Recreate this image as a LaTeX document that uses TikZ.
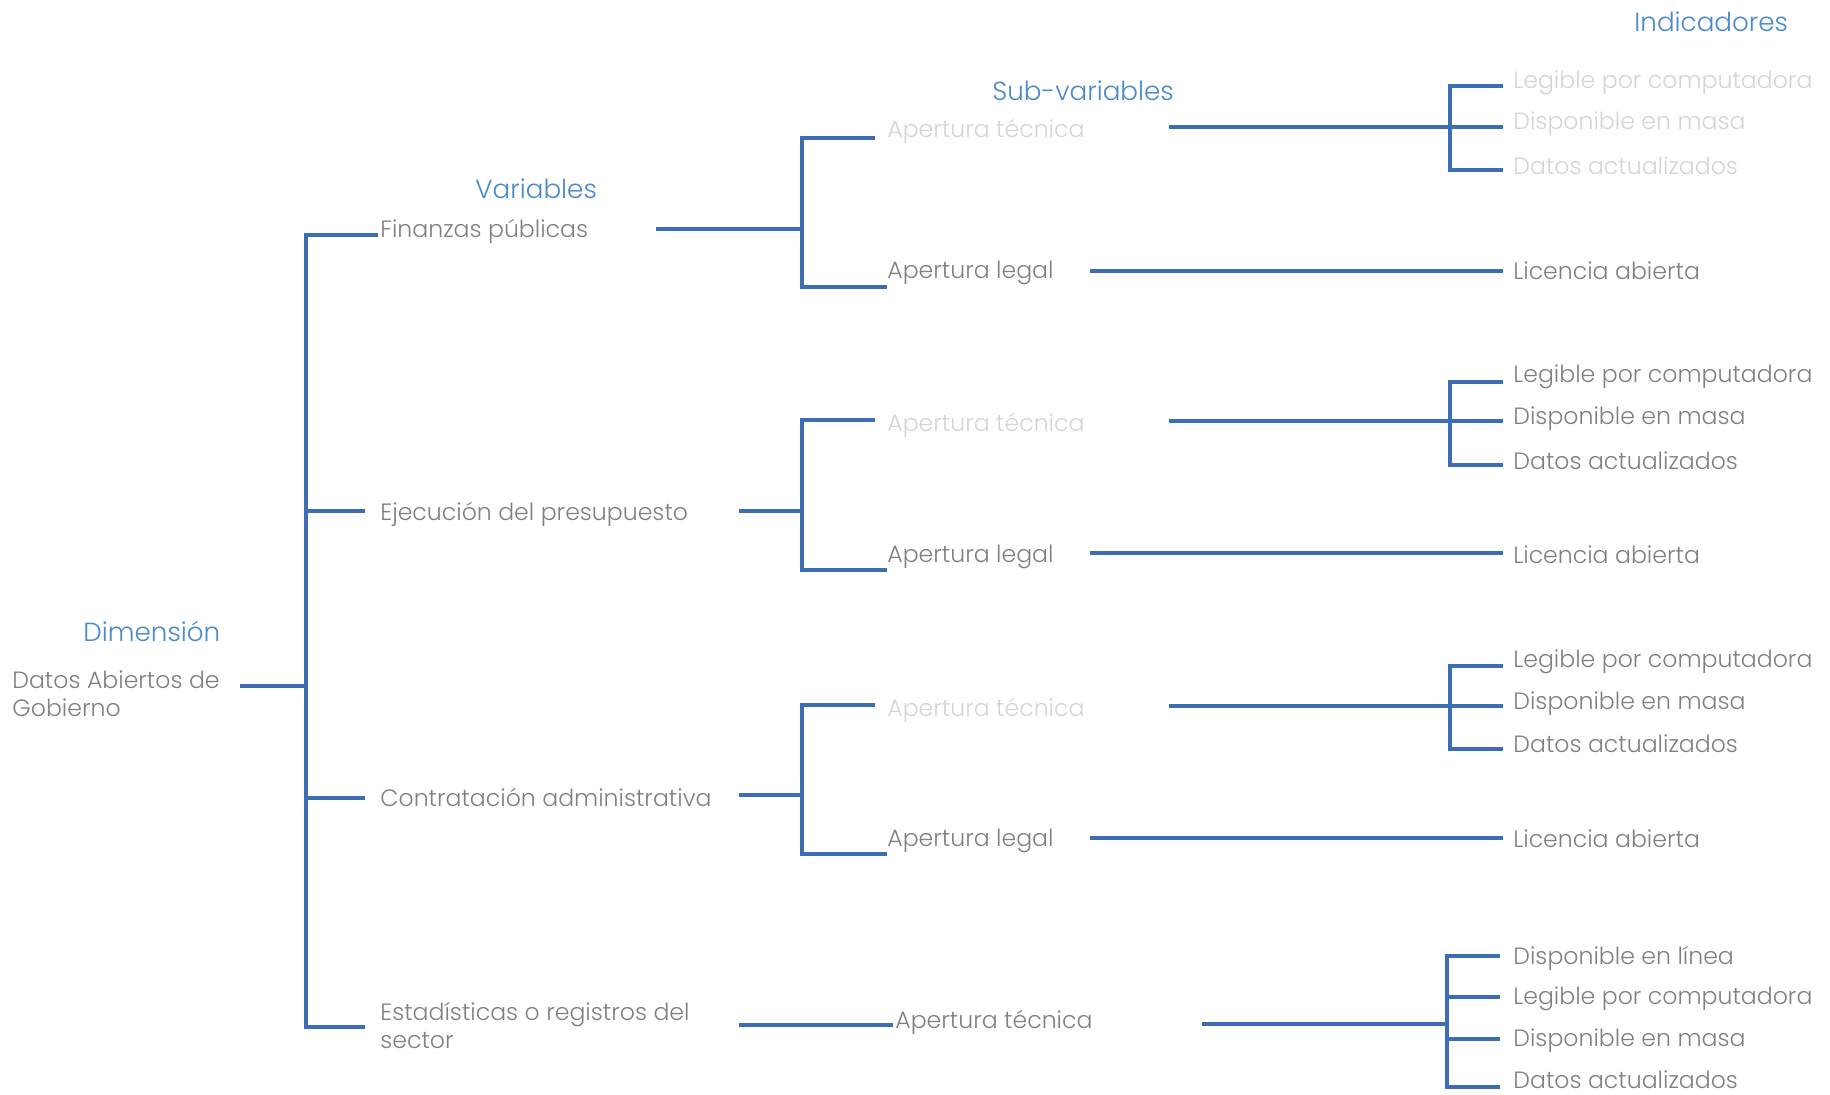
\documentclass[tikz,border=0pt]{standalone}
\usepackage{fontspec}
\setmainfont{Poppins}[UprightFont={* Light}]
\definecolor{lineblue}{HTML}{3D6DB5}
\definecolor{headblue}{HTML}{4A89CC}
\definecolor{textgray}{HTML}{808080}
\definecolor{textfaint}{HTML}{D4D4D4}
\tikzset{
  basetext/.style={anchor=west, inner sep=0pt, font=\fontsize{11.8}{14}\selectfont},
  header/.style={basetext, text=headblue, font=\fontsize{13.1}{16}\selectfont},
  label/.style={basetext, text=textgray, align=left},
  faint/.style={basetext, text=textfaint},
  conn/.style={draw=lineblue, line width=1.6pt}
}
\begin{document}
\begin{tikzpicture}[x=0.5pt, y=-0.5pt]
\useasboundingbox (0,0) rectangle (1830,1095);

% column headers
\node[header] (hInd) at (1634,22) {Indicadores};
\node[header] (hSub) at (992,91) {Sub-variables};
\node[header] (hVar) at (475,189) {Variables};
\node[header] (hDim) at (83,631) {Dimensión};

% dimension
\node[label] (dim) at (12,694) {Datos Abiertos de\\Gobierno};

% variables
\node[label] (v1) at (380,231) {Finanzas públicas};
\node[label] (v2) at (380,514) {Ejecución del presupuesto};
\node[label] (v3) at (380,797) {Contratación administrativa};
\node[label] (v4) at (380,1026) {Estadísticas o registros del\\sector};

% sub-variables
\node[faint] (s1t) at (887,131) {Apertura técnica};
\node[label] (s1l) at (887,273) {Apertura legal};
\node[faint] (s2t) at (887,425) {Apertura técnica};
\node[label] (s2l) at (887,557) {Apertura legal};
\node[faint] (s3t) at (887,710) {Apertura técnica};
\node[label] (s3l) at (887,841) {Apertura legal};
\node[label] (s4t) at (895,1022) {Apertura técnica};

% indicators
\node[faint] (i1a) at (1513,83) {Legible por computadora};
\node[faint] (i1b) at (1513,124) {Disponible en masa};
\node[faint] (i1c) at (1513,166) {Datos actualizados};
\node[label] (i1l) at (1513,271) {Licencia abierta};
\node[label] (i2a) at (1513,377) {Legible por computadora};
\node[label] (i2b) at (1513,419) {Disponible en masa};
\node[label] (i2c) at (1513,461) {Datos actualizados};
\node[label] (i2l) at (1513,555) {Licencia abierta};
\node[label] (i3a) at (1513,662) {Legible por computadora};
\node[label] (i3b) at (1513,704) {Disponible en masa};
\node[label] (i3c) at (1513,744) {Datos actualizados};
\node[label] (i3l) at (1513,839) {Licencia abierta};
\node[label] (i4a) at (1513,958) {Disponible en línea};
\node[label] (i4b) at (1513,999) {Legible por computadora};
\node[label] (i4c) at (1513,1041) {Disponible en masa};
\node[label] (i4d) at (1513,1080) {Datos actualizados};

% ---- dimension -> variables
\coordinate (dimOut) at (240,686);
\coordinate (trunk) at (306,686);
\coordinate (v1in) at (378,235);
\coordinate (v2in) at (365,511);
\coordinate (v3in) at (365,798);
\coordinate (v4in) at (365,1027);
\draw[conn] (dimOut) -- (trunk);
\draw[conn] (v1in) -| (trunk) |- (v4in);
\draw[conn] (trunk |- v2in) -- (v2in);
\draw[conn] (trunk |- v3in) -- (v3in);

% ---- variables -> sub-variables
\coordinate (v1out) at (656,229);
\coordinate (v2out) at (739,511);
\coordinate (v3out) at (739,795);
\coordinate (v4out) at (739,1025);
\coordinate (j1) at (802,229);
\coordinate (j2) at (802,511);
\coordinate (j3) at (802,795);
\coordinate (s1tin) at (875,138);
\coordinate (s1lin) at (887,287);
\coordinate (s2tin) at (875,420);
\coordinate (s2lin) at (887,570);
\coordinate (s3tin) at (875,705);
\coordinate (s3lin) at (887,854);
\coordinate (s4tin) at (893,1025);
\draw[conn] (v1out) -- (j1);
\draw[conn] (s1tin) -| (j1) |- (s1lin);
\draw[conn] (v2out) -- (j2);
\draw[conn] (s2tin) -| (j2) |- (s2lin);
\draw[conn] (v3out) -- (j3);
\draw[conn] (s3tin) -| (j3) |- (s3lin);
\draw[conn] (v4out) -- (s4tin);

% ---- sub-variables -> indicators
\coordinate (s1tout) at (1169,127);
\coordinate (k1) at (1450,127);
\coordinate (i1ain) at (1503,86);
\coordinate (i1bin) at (1503,127);
\coordinate (i1cin) at (1503,170);
\draw[conn] (s1tout) -- (i1bin);
\draw[conn] (i1ain) -| (k1) |- (i1cin);
\coordinate (s1lout) at (1090,271);
\coordinate (i1lin) at (1503,271);
\draw[conn] (s1lout) -- (i1lin);

\coordinate (s2tout) at (1169,421);
\coordinate (k2) at (1450,421);
\coordinate (i2ain) at (1503,382);
\coordinate (i2bin) at (1503,421);
\coordinate (i2cin) at (1503,465);
\draw[conn] (s2tout) -- (i2bin);
\draw[conn] (i2ain) -| (k2) |- (i2cin);
\coordinate (s2lout) at (1090,553);
\coordinate (i2lin) at (1503,553);
\draw[conn] (s2lout) -- (i2lin);

\coordinate (s3tout) at (1169,706);
\coordinate (k3) at (1450,706);
\coordinate (i3ain) at (1503,666);
\coordinate (i3bin) at (1503,706);
\coordinate (i3cin) at (1503,749);
\draw[conn] (s3tout) -- (i3bin);
\draw[conn] (i3ain) -| (k3) |- (i3cin);
\coordinate (s3lout) at (1090,838);
\coordinate (i3lin) at (1503,838);
\draw[conn] (s3lout) -- (i3lin);

\coordinate (s4tout) at (1202,1024);
\coordinate (k4) at (1447,1024);
\coordinate (i4ain) at (1500,956);
\coordinate (i4bin) at (1500,997);
\coordinate (i4cin) at (1500,1039);
\coordinate (i4din) at (1500,1087);
\draw[conn] (s4tout) -- (k4);
\draw[conn] (i4ain) -| (k4) |- (i4din);
\draw[conn] (k4 |- i4bin) -- (i4bin);
\draw[conn] (k4 |- i4cin) -- (i4cin);
\end{tikzpicture}
\end{document}
